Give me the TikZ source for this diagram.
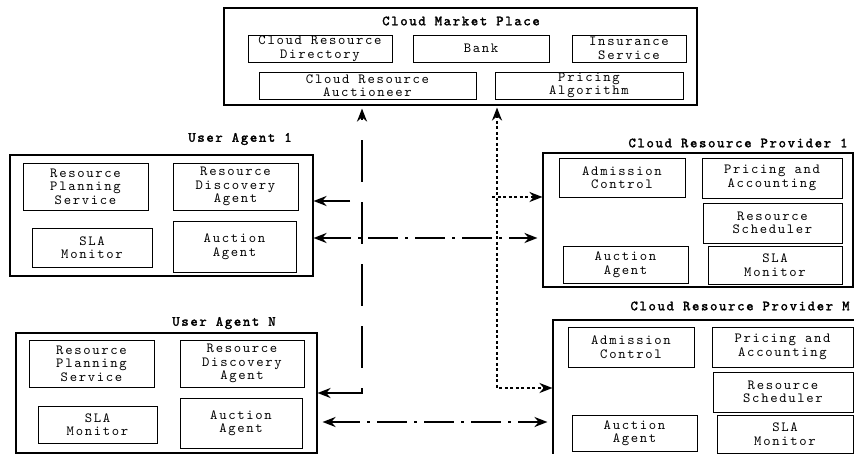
\documentclass[tikz,border=0pt]{standalone}
\usepackage{fontspec}
\newfontfamily\boxfont{lmmono10-regular.otf}[LetterSpace=12, BoldFont=lmmono10-regular.otf, BoldFeatures={FakeBold=2}]
\usetikzlibrary{arrows.meta}

\begin{document}
\begin{tikzpicture}[x=1pt, y=-1pt,
        every node/.style={font=\boxfont\fontsize{14}{13.5}\selectfont},
        part/.style 2 args={draw, line width=0.9pt, align=center, inner sep=0pt,
            minimum width=#1pt, minimum height=#2pt},
        group/.style 2 args={draw, line width=1.1pt, inner sep=0pt,
            minimum width=#1pt, minimum height=#2pt},
        title/.style={font=\boxfont\bfseries\fontsize{14}{13.5}\selectfont},
        link/.style={line width=2.2pt, >={Stealth[length=13pt,width=10pt]}},
        longdash/.style={link, dash pattern=on 42pt off 20pt},
        dashdot/.style={link, dash pattern=on 30pt off 7pt on 3pt off 7pt},
        dotline/.style={link, dash pattern=on 3pt off 2.5pt}]
        \useasboundingbox (0,0) rectangle (854,454);

        % market place
        \node[group={473}{97}] (market) at (460.5,56.5) {};
        \node[title] (mtitle) at (461,21) {Cloud Market Place};
        \node[part={144}{27}] (crd) at (320,48.5) {Cloud Resource\\Directory};
        \node[part={136}{27}] (bank) at (481,48.5) {Bank};
        \node[part={114}{27}] (ins) at (629,48.5) {Insurance\\Service};
        \node[part={217}{27}] (cra) at (367.5,85.5) {Cloud Resource\\Auctioneer};
        \node[part={188}{27}] (palg) at (589,85.5) {Pricing\\Algorithm};

        % user agent 1
        \node[group={303}{121}] (ua1) at (161.5,215.5) {};
        \node[title] (ua1title) at (240,139) {User Agent 1};
        \node[part={125}{47}] (rps1) at (85.5,186.5) {Resource\\Planning\\Service};
        \node[part={125}{47}] (rda1) at (235.5,186.5) {Resource\\Discovery\\Agent};
        \node[part={120}{39}] (sla1) at (92,247.5) {SLA\\Monitor};
        \node[part={123}{51}] (auc1) at (234.5,246.5) {Auction\\Agent};

        % user agent N
        \node[group={301}{120}] (uan) at (166.5,393) {};
        \node[title] (uantitle) at (224,323) {User Agent N};
        \node[part={125}{47}] (rpsn) at (91.5,363.5) {Resource\\Planning\\Service};
        \node[part={124}{47}] (rdan) at (242,363.5) {Resource\\Discovery\\Agent};
        \node[part={119}{37}] (slan) at (97.5,424.5) {SLA\\Monitor};
        \node[part={122}{50}] (aucn) at (241,423) {Auction\\Agent};

        % provider 1
        \node[group={310}{134}] (p1) at (698,220) {};
        \node[title] (p1title) at (738,143) {Cloud Resource Provider 1};
        \node[part={126}{39}] (ac1) at (622,177.5) {Admission\\Control};
        \node[part={140}{40}] (pa1) at (772,178) {Pricing and\\Accounting};
        \node[part={139}{40}] (rs1) at (772.5,223) {Resource\\Scheduler};
        \node[part={125}{37}] (aa1) at (625.5,264.5) {Auction\\Agent};
        \node[part={134}{38}] (sm1) at (775,265) {SLA\\Monitor};

        % provider M
        \node[group={322}{160}] (pm) at (714,400) {};
        \node[title] (pmtitle) at (740,306) {Cloud Resource Provider M};
        \node[part={126}{40}] (acm) at (631,347) {Admission\\Control};
        \node[part={141}{40}] (pam) at (782.5,347) {Pricing and\\Accounting};
        \node[part={140}{40}] (rsm) at (783,392) {Resource\\Scheduler};
        \node[part={125}{36}] (aam) at (634.5,433) {Auction\\Agent};
        \node[part={136}{38}] (smm) at (785,434) {SLA\\Monitor};

        % connectors
        \coordinate (vcorner) at (362,393);
        \coordinate (stub) at (350,201);
        \coordinate (bus1) at (430,238);
        \coordinate (bus2) at (430,422);
        \coordinate (dcorner) at (497,388);
        \coordinate (dbranch) at (492,197);

        \draw[longdash, <->, shorten >=3pt] (uan.east |- vcorner) -- (vcorner) -- (vcorner |- market.south);
        \draw[link, ->] (stub) -- (stub -| ua1.east);
        \draw[dashdot, <->, shorten >=5pt] (ua1.east |- bus1) -- (p1.west |- bus1);
        \draw[dashdot, <->, shorten <=5pt, shorten >=5pt] (uan.east |- bus2) -- (pm.west |- bus2);
        \draw[dotline, <->, shorten <=2pt] (market.south -| dcorner) -- (dcorner) -- (dcorner -| pm.west);
        \draw[dotline, ->] (dbranch) -- (dbranch -| p1.west);
    \end{tikzpicture}
\end{document}
